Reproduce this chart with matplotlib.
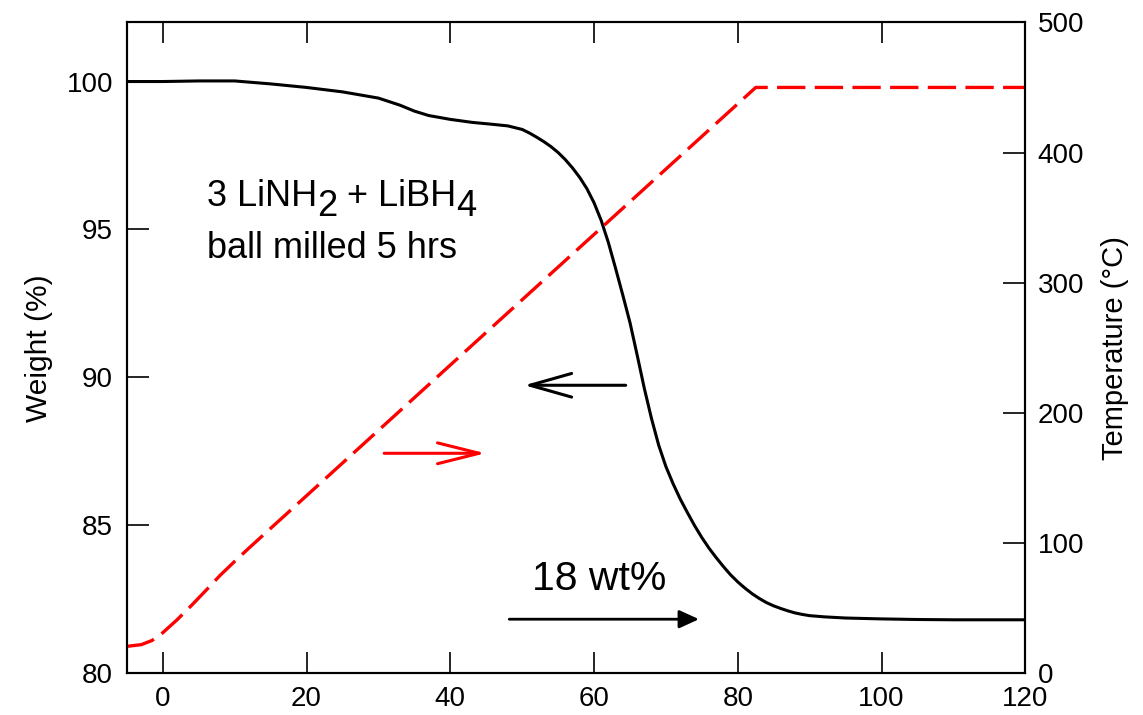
import matplotlib
matplotlib.use("Agg")
import matplotlib.pyplot as plt

plt.rcParams['font.family'] = ['Liberation Sans', 'DejaVu Sans']

# ---- data ----
time_w = [-5, 0, 5, 10, 15, 20, 25, 30, 33, 35, 37, 40, 43, 46, 48,
          50, 51, 52, 53, 54, 55, 56, 57, 58, 59, 60, 61, 62, 63, 64, 65, 66, 67,
          68, 69, 70, 71, 72, 73, 74, 75, 76, 77, 78, 79, 80, 81, 82, 83, 84, 85,
          86, 87, 88, 89, 90, 92, 95, 100, 105, 110, 115, 120]
weight = [100.0, 100.0, 100.02, 100.02, 99.92, 99.8, 99.65, 99.44, 99.2, 99.0, 98.85,
          98.72, 98.62, 98.55, 98.5,
          98.38, 98.26, 98.12, 97.97, 97.8, 97.6, 97.36, 97.08, 96.76, 96.38, 95.9,
          95.3, 94.55, 93.68, 92.78, 91.85, 90.75, 89.62,
          88.6, 87.7, 86.98, 86.4, 85.88, 85.42, 84.98, 84.58, 84.22, 83.9, 83.6,
          83.32, 83.08, 82.87, 82.68, 82.52, 82.38, 82.27,
          82.18, 82.1, 82.03, 81.98, 81.94, 81.9, 81.86, 81.83, 81.81, 81.8, 81.8, 81.8]

time_t = [-5, -3, -1.5, 0, 2, 4, 6, 8, 10, 12, 82.5, 120]
temp = [20.5, 21.8, 25, 31, 41, 52, 63.5, 75.2, 85.8, 96.1, 450, 450]

x_ticks = [0, 20, 40, 60, 80, 100, 120]
w_ticks = [80, 85, 90, 95, 100]
t_ticks = [0, 100, 200, 300, 400, 500]

# ---- figure ----
fig = plt.figure(figsize=(11.43, 7.15), dpi=100)
ax = fig.add_axes([0.111, 0.0587, 0.786, 0.910])
ax2 = ax.twinx()

ax.plot(time_w, weight, color='black', lw=2.2, zorder=3)
ax2.plot(time_t, temp, color='#ff0000', lw=2.4, dashes=(8.5, 2.8), zorder=2)

ax.set_xlim(-5, 120)
ax.set_ylim(80, 102)
ax2.set_ylim(0, 500)
ax.set_xticks(x_ticks)
ax.set_yticks(w_ticks)
ax2.set_yticks(t_ticks)

for a in (ax, ax2):
    for s in a.spines.values():
        s.set_linewidth(1.5)

ax.tick_params(axis='x', direction='in', top=True, length=15, width=1.2,
               labelsize=20, pad=9)
ax.tick_params(axis='y', direction='in', length=16, width=1.2, labelsize=20, pad=10)
ax2.tick_params(axis='y', direction='in', length=16, width=1.2, labelsize=20, pad=9)

ax.set_ylabel('Weight (%)', fontsize=21.5, labelpad=10)
ax2.set_ylabel('Temperature (°C)', fontsize=21, labelpad=12)

# ---- annotations ----
fs = 26
t1 = ax.text(6.1, 95.78, '3 LiNH', fontsize=fs, va='baseline', ha='left')
t2 = ax.annotate('2', xy=(1, 0), xycoords=t1, xytext=(0, -7),
                 textcoords='offset points', fontsize=fs, va='bottom', ha='left')
t3 = ax.annotate(' + LiBH', xy=(1, 0), xycoords=t2, xytext=(0, 7),
                 textcoords='offset points', fontsize=fs, va='bottom', ha='left')
ax.annotate('4', xy=(1, 0), xycoords=t3, xytext=(0, -7),
            textcoords='offset points', fontsize=fs, va='bottom', ha='left')
ax.text(6.1, 94.05, 'ball milled 5 hrs', fontsize=fs, va='baseline', ha='left')

ax.text(51.4, 82.8, '18 wt%', fontsize=29.5, va='baseline', ha='left')

ax.annotate('', xy=(74.6, 81.82), xytext=(48.2, 81.82),
            arrowprops=dict(arrowstyle='-|>, head_length=1.2, head_width=0.55',
                            color='black', lw=2.0, shrinkA=0, shrinkB=0,
                            mutation_scale=10))
ax.annotate('', xy=(50.3, 89.73), xytext=(64.4, 89.73),
            arrowprops=dict(arrowstyle='->, head_length=3.0, head_width=0.85',
                            color='black', lw=2.2, shrinkA=0, shrinkB=0,
                            mutation_scale=10))
ax.annotate('', xy=(44.9, 87.43), xytext=(30.8, 87.43),
            arrowprops=dict(arrowstyle='->, head_length=3.0, head_width=0.75',
                            color='#ff0000', lw=2.2, shrinkA=0, shrinkB=0,
                            mutation_scale=10))

fig.savefig('out.png', dpi=100)
